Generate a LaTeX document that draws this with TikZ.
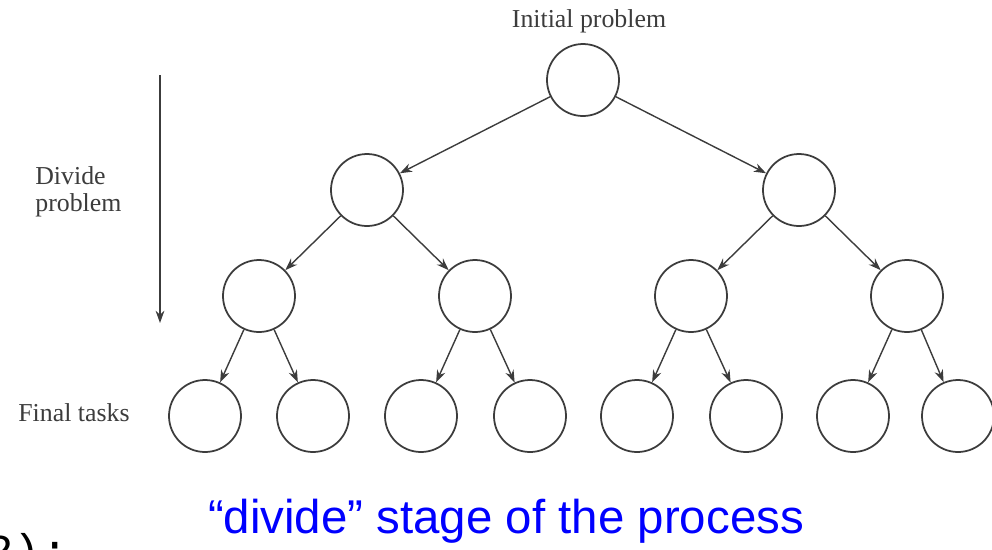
\documentclass[tikz,border=0pt]{standalone}
\usepackage{fontspec}
\setmainfont{Liberation Serif}
\newfontfamily\bluesans{Liberation Sans}
\newfontfamily\monofont{Liberation Mono}
\usetikzlibrary{arrows.meta}
\definecolor{ink}{RGB}{60,60,60}
\tikzset{
  task/.style={circle, draw=ink, line width=1pt, minimum size=72*0.02cm, inner sep=0pt},
  link/.style={draw=ink, line width=0.8pt, -{Stealth[length=7pt,width=5pt]}},
  lbl/.style={text=ink, font=\fontsize{14.7}{15.3}\selectfont, inner sep=0pt},
}
\begin{document}
\begin{tikzpicture}[x=0.02cm, y=-0.02cm]
\useasboundingbox (0,0) rectangle (992,549);
% level 0
\node[task] (r) at (583,80) {};
% level 1
\node[task] (a) at (367,190) {};
\node[task] (b) at (799,190) {};
% level 2
\node[task] (a1) at (259,296) {};
\node[task] (a2) at (475,296) {};
\node[task] (b1) at (691,296) {};
\node[task] (b2) at (907,296) {};
% level 3
\node[task] (l1) at (205,416) {};
\node[task] (l2) at (313,416) {};
\node[task] (l3) at (421,416) {};
\node[task] (l4) at (530,416) {};
\node[task] (l5) at (637,416) {};
\node[task] (l6) at (746,416) {};
\node[task] (l7) at (853,416) {};
\node[task] (l8) at (958,416) {};
% links
\draw[link] (r) -- (a);
\draw[link] (r) -- (b);
\draw[link] (a) -- (a1);
\draw[link] (a) -- (a2);
\draw[link] (b) -- (b1);
\draw[link] (b) -- (b2);
\draw[link] (a1) -- (l1);
\draw[link] (a1) -- (l2);
\draw[link] (a2) -- (l3);
\draw[link] (a2) -- (l4);
\draw[link] (b1) -- (l5);
\draw[link] (b1) -- (l6);
\draw[link] (b2) -- (l7);
\draw[link] (b2) -- (l8);
% labels
\node[lbl] (tInit) at (589,21) {Initial problem};
\node[lbl, align=left, anchor=west] (tDiv) at (35,192) {Divide\\problem};
\node[lbl, anchor=west] (tFin) at (18,413) {Final tasks};
% vertical arrow
\coordinate (vtop) at (160,75);
\coordinate (vbot) at (160,323);
\draw[link] (vtop) -- (vbot);
% caption
\node[text={rgb,255:red,0;green,0;blue,255}, font=\bluesans\fontsize{27}{32}\selectfont, inner sep=0pt] (cap) at (506,521) {“divide” stage of the process};
\node[font=\monofont\fontsize{26}{30}\selectfont, anchor=base west, inner sep=0pt] (code) at (-14,566) {2);};
\end{tikzpicture}
\end{document}
